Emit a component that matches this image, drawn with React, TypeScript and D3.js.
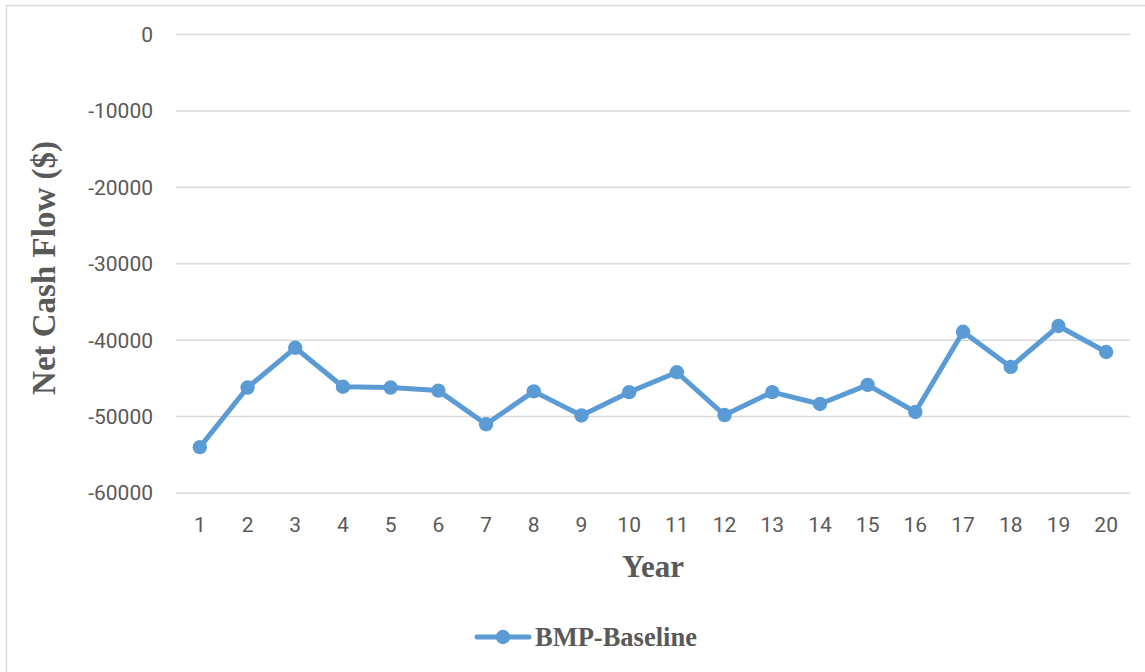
import React from "react";
import * as d3 from "d3";

const years: number[] = [1, 2, 3, 4, 5, 6, 7, 8, 9, 10, 11, 12, 13, 14, 15, 16, 17, 18, 19, 20];
const netCashFlow: number[] = [
  -54000, -46200, -41000, -46100, -46200, -46600, -51000, -46700, -49850, -46800,
  -44200, -49800, -46800, -48350, -45850, -49400, -38900, -43500, -38150, -41550,
];
const yTicks: number[] = [0, -10000, -20000, -30000, -40000, -50000, -60000];
const seriesName = "BMP-Baseline";
const xTitle = "Year";
const yTitle = "Net Cash Flow ($)";

const W = 1145;
const H = 672;
const plot = { left: 176, right: 1130, top: 34.5, bottom: 493 };
const lineColor = "#5b9bd5";
const gridColor = "#d9d9d9";
const textColor = "#595959";
const sans = "Roboto, 'Open Sans', sans-serif";
const serif = "'Liberation Serif', 'DejaVu Serif', serif";

export default function App() {
  const x = d3
    .scaleBand<number>()
    .domain(years)
    .range([plot.left, plot.right]);
  const y = d3.scaleLinear().domain([-60000, 0]).range([plot.bottom, plot.top]);
  const cx = (d: number) => (x(d) as number) + x.bandwidth() / 2;

  const line = d3
    .line<number>()
    .x((_, i) => cx(years[i]))
    .y((d) => y(d));

  return (
    <svg
      width={W}
      height={H}
      style={{ position: "absolute", left: 0, top: 0, background: "#fff" }}
    >
      <rect x={6.5} y={5.5} width={1200} height={800} fill="#fff" stroke={gridColor} strokeWidth={1.5} />
      {yTicks.map((t) => (
        <g key={t}>
          <line x1={plot.left} x2={plot.right} y1={y(t)} y2={y(t)} stroke={gridColor} strokeWidth={1.5} />
          <text
            x={153}
            y={y(t)}
            dy="0.35em"
            textAnchor="end"
            fontFamily={sans}
            fontSize={21}
            fill={textColor}
          >
            {t}
          </text>
        </g>
      ))}
      {years.map((yr) => (
        <text
          key={yr}
          x={cx(yr)}
          y={532}
          textAnchor="middle"
          fontFamily={sans}
          fontSize={21}
          fill={textColor}
        >
          {yr}
        </text>
      ))}
      <path d={line(netCashFlow) || ""} fill="none" stroke={lineColor} strokeWidth={5} strokeLinejoin="round" />
      {netCashFlow.map((v, i) => (
        <circle key={i} cx={cx(years[i])} cy={y(v)} r={7.2} fill={lineColor} />
      ))}
      <text
        x={653}
        y={577}
        textAnchor="middle"
        fontFamily={serif}
        fontWeight="bold"
        fontSize={31}
        fill={textColor}
      >
        {xTitle}
      </text>
      <text
        transform={`translate(55, 268) rotate(-90)`}
        textAnchor="middle"
        fontFamily={serif}
        fontWeight="bold"
        fontSize={33}
        fill={textColor}
      >
        {yTitle}
      </text>
      <g>
        <line x1={477} x2={529} y1={637} y2={637} stroke={lineColor} strokeWidth={5} strokeLinecap="round" />
        <circle cx={503} cy={637} r={7.2} fill={lineColor} />
        <text x={535} y={646} fontFamily={serif} fontWeight="bold" fontSize={26.5} fill={textColor}>
          {seriesName}
        </text>
      </g>
    </svg>
  );
}
